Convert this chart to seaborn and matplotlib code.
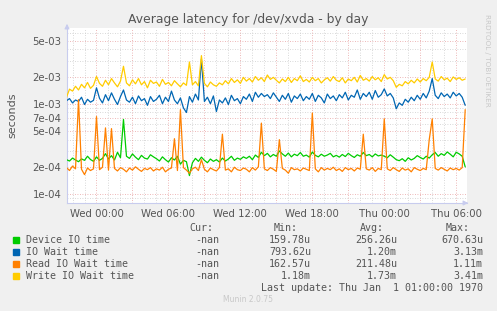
import numpy as np
import pandas as pd
import seaborn as sns
import matplotlib.pyplot as plt
from matplotlib.ticker import FixedLocator, NullFormatter

# hours relative to Wed 00:00, one sample per 15 min
t_start = -2.5
t_step = 0.25

# values in microseconds
device_io = [240, 232, 250, 238, 228, 245, 236, 262, 241, 230,
             258, 236, 248, 280, 244, 266, 238, 290, 252, 670,
             262, 248, 278, 256, 240, 268, 250, 244, 272, 258,
             246, 232, 258, 240, 226, 252, 238, 262, 214, 236,
             228, 160, 222, 248, 230, 256, 236, 222, 244, 230,
             240, 226, 250, 232, 244, 262, 236, 250, 242, 258,
             248, 262, 240, 270, 254, 290, 266, 282, 258, 274,
             262, 300, 278, 262, 284, 258, 276, 266, 288, 262,
             270, 256, 292, 268, 258, 276, 262, 270, 282, 258,
             268, 256, 274, 260, 282, 266, 254, 272, 262, 288,
             266, 274, 258, 278, 264, 270, 262, 252, 272, 256,
             240, 234, 246, 230, 252, 238, 248, 266, 254, 244,
             262, 250, 272, 288, 262, 280, 268, 292, 276, 258,
             290, 278, 262, 200]

io_wait = [1080, 1140, 1020, 1100, 1060, 1180, 980, 1120, 1040, 1090,
           1500, 1150, 1020, 1260, 1080, 1320, 1120, 980, 1200, 1420,
           1100, 1040, 1180, 1000, 1220, 1080, 1140, 960, 1200, 1060,
           1120, 1240, 1000, 1180, 1060, 1380, 1100, 1000, 1160, 900,
           800, 1200, 1040, 1280, 1100, 3130, 1060, 1180, 1000, 1220,
           820, 1100, 1020, 1160, 980, 1240, 1080, 1140, 1000, 1200,
           1120, 1280, 1060, 1340, 1180, 1300, 1200, 1260, 1140, 1320,
           1180, 1060, 1240, 1120, 1300, 1040, 1220, 1140, 1280, 1080,
           1200, 1120, 1300, 1060, 1240, 1160, 1020, 1280, 1140, 1220,
           1080, 1260, 1160, 1340, 1100, 1240, 1180, 1420, 1120, 1300,
           1200, 1340, 1120, 1400, 1180, 1260, 1460, 1220, 1300, 1160,
           880, 1020, 960, 1120, 1040, 1180, 1080, 1240, 1120, 1300,
           1160, 1380, 1900, 1240, 1140, 1320, 1200, 1280, 1160, 1340,
           1220, 1300, 1180, 960]

read_io_wait = [196, 182, 204, 190, 1110, 188, 164, 194, 182, 190,
                720, 186, 198, 540, 184, 530, 192, 180, 196, 188,
                176, 194, 184, 200, 188, 178, 192, 186, 196, 180,
                190, 184, 198, 176, 188, 194, 410, 182, 860, 196,
                184, 170, 190, 198, 182, 240, 188, 176, 194, 186,
                180, 196, 460, 184, 190, 176, 198, 186, 182, 194,
                188, 176, 196, 184, 200, 610, 190, 182, 196, 188,
                178, 400, 192, 184, 170, 196, 186, 190, 180, 194,
                188, 182, 790, 190, 176, 196, 184, 192, 186, 198,
                182, 190, 178, 196, 186, 192, 180, 194, 188, 460,
                190, 184, 196, 178, 192, 186, 680, 190, 182, 196,
                186, 178, 194, 184, 190, 176, 196, 188, 182, 192,
                186, 400, 680, 192, 184, 196, 188, 180, 194, 186,
                192, 184, 196, 860]

write_io_wait = [1180, 1450, 1380, 1560, 1420, 1640, 1500, 1720, 1480, 1600,
                 2000, 1680, 1560, 1820, 1620, 1900, 1700, 1540, 1780, 2600,
                 1700, 1580, 1840, 1660, 1900, 1620, 1760, 1500, 1820, 1680,
                 1740, 1560, 1860, 1640, 1720, 1580, 1800, 1660, 1540, 1700,
                 1600, 2900, 1620, 1760, 1580, 3410, 1680, 1540, 1740, 1620,
                 1560, 1700, 1620, 1800, 1660, 1900, 1720, 1840, 1680, 1960,
                 1780, 1900, 1740, 2000, 1820, 1940, 1760, 2080, 1860, 1960,
                 1820, 1700, 1880, 1760, 1960, 1720, 1900, 1800, 2040, 1760,
                 1860, 1740, 1960, 1800, 1900, 1700, 1840, 1940, 1780, 2000,
                 1820, 1760, 1940, 1700, 1880, 1800, 1960, 1740, 2060, 1820,
                 1900, 1780, 2000, 1840, 1940, 1760, 2100, 1880, 1960, 1800,
                 1520, 1640, 1580, 1760, 1660, 1820, 1700, 1880, 1740, 1900,
                 1800, 1960, 2900, 1880, 1780, 2000, 1840, 1920, 1760, 1980,
                 1860, 1940, 1820, 1880]

series_names = ["Device IO time", "IO Wait time", "Read IO Wait time", "Write IO Wait time"]
series_colors = ["#00CC00", "#0066B3", "#FF8000", "#FFCC00"]
stats_cur = ["-nan", "-nan", "-nan", "-nan"]
stats_min = ["159.78u", "793.62u", "162.57u", "1.18m"]
stats_avg = ["256.26u", "1.20m", "211.48u", "1.73m"]
stats_max = ["670.63u", "3.13m", "1.11m", "3.41m"]

xtick_pos = [0, 6, 12, 18, 24, 30]
xtick_labels = ["Wed 00:00", "Wed 06:00", "Wed 12:00", "Wed 18:00", "Thu 00:00", "Thu 06:00"]
ytick_pos = [1e-4, 2e-4, 5e-4, 7e-4, 1e-3, 2e-3, 5e-3]
ytick_labels = ["1e-04", "2e-04", "5e-04", "7e-04", "1e-03", "2e-03", "5e-03"]

frames = []
for name, vals in zip(series_names, [device_io, io_wait, read_io_wait, write_io_wait]):
    n = len(vals)
    frames.append(pd.DataFrame({
        "hour": t_start + t_step * np.arange(n),
        "seconds": np.array(vals) * 1e-6,
        "series": name,
    }))
df = pd.concat(frames, ignore_index=True)

sns.set_style("white")
plt.rcParams["font.family"] = ["DejaVu Sans"]
txt = "#555555"

fig = plt.figure(figsize=(4.97, 3.11), dpi=100, facecolor="#F0F0F0")
ax = fig.add_axes([67 / 497, 1 - 203 / 311, 400 / 497, 175 / 311])
ax.set_facecolor("white")

ax.set_yscale("log")
ax.set_xlim(-2.46, 30.9)
ax.set_ylim(7.95e-5, 6.9e-3)

# grid: gray minor, red major
minor_y = [m * 10.0 ** e for e in (-5, -4, -3) for m in range(1, 10)]
minor_y = [v for v in minor_y if 7.95e-5 < v < 6.9e-3 and not any(abs(v - p) < 1e-9 for p in ytick_pos)]
for v in minor_y:
    ax.axhline(v, color="#cccccc", lw=0.6, ls=(0, (1, 2)), zorder=0)
for v in ytick_pos:
    ax.axhline(v, color="#e8a0a0", lw=0.6, ls=(0, (1, 2)), zorder=0)
for h in range(-2, 31):
    c = "#e8a0a0" if h % 3 == 0 else "#cccccc"
    ax.axvline(h, color=c, lw=0.6, ls=(0, (1, 2)), zorder=0)

sns.lineplot(data=df, x="hour", y="seconds", hue="series", hue_order=series_names,
             palette=series_colors, linewidth=0.9, legend=False, ax=ax, zorder=3)

ax.yaxis.set_major_locator(FixedLocator(ytick_pos))
ax.set_yticklabels(ytick_labels)
ax.yaxis.set_minor_locator(FixedLocator(minor_y))
ax.yaxis.set_minor_formatter(NullFormatter())
ax.set_xticks(xtick_pos)
ax.set_xticklabels(xtick_labels)
ax.tick_params(axis="both", which="both", labelsize=7.3, colors=txt, length=2, width=0.6, pad=2)
ax.tick_params(axis="both", which="both", color="#c8ccee")
ax.set_xlabel("")
ax.set_ylabel("seconds", fontsize=8, color=txt, labelpad=11)

for side in ["top", "right"]:
    ax.spines[side].set_visible(False)
for side in ["left", "bottom"]:
    ax.spines[side].set_color("#c8ccee")
    ax.spines[side].set_linewidth(0.8)
ax.annotate("", xy=(0, 1.04), xytext=(0, 0.98), xycoords="axes fraction",
            arrowprops=dict(arrowstyle="-|>", color="#c8ccee", lw=0.8, mutation_scale=7))
ax.annotate("", xy=(1.01, 0), xytext=(0.99, 0), xycoords="axes fraction",
            arrowprops=dict(arrowstyle="-|>", color="#c8ccee", lw=0.8, mutation_scale=7))

fig.text(0.5, 1 - 19 / 311, "Average latency for /dev/xvda - by day", ha="center", va="center",
         fontsize=8.9, color="#555555")
fig.text(487 / 497, 1 - 60 / 311, "RRDTOOL / TOBI OETIKER", rotation=270, ha="center", va="center",
         fontsize=5.2, color="#c8c8c8")

# legend table
mono = dict(family="DejaVu Sans Mono", fontsize=7.2, color=txt, va="center")
def fy(py):
    return 1 - py / 311

fig.text(213 / 497, fy(228), "Cur:", ha="right", **mono)
fig.text(298 / 497, fy(228), "Min:", ha="right", **mono)
fig.text(384 / 497, fy(228), "Avg:", ha="right", **mono)
fig.text(470 / 497, fy(228), "Max:", ha="right", **mono)
for i, name in enumerate(series_names):
    py = 240 + 12 * i
    fig.patches.append(plt.Rectangle((13 / 497, fy(py + 3)), 6 / 497, 6 / 311,
                                     transform=fig.transFigure, color=series_colors[i]))
    fig.text(26 / 497, fy(py), name, ha="left", **mono)
    fig.text(219 / 497, fy(py), stats_cur[i], ha="right", **mono)
    fig.text(311 / 497, fy(py), stats_min[i], ha="right", **mono)
    fig.text(397 / 497, fy(py), stats_avg[i], ha="right", **mono)
    fig.text(483 / 497, fy(py), stats_max[i], ha="right", **mono)
fig.text(483 / 497, fy(288), "Last update: Thu Jan  1 01:00:00 1970", ha="right", **mono)
fig.text(248 / 497, fy(300), "Munin 2.0.75", ha="center", va="center", fontsize=5.5, color="#c8c8c8")

fig.savefig("out.png", dpi=100, facecolor=fig.get_facecolor())
